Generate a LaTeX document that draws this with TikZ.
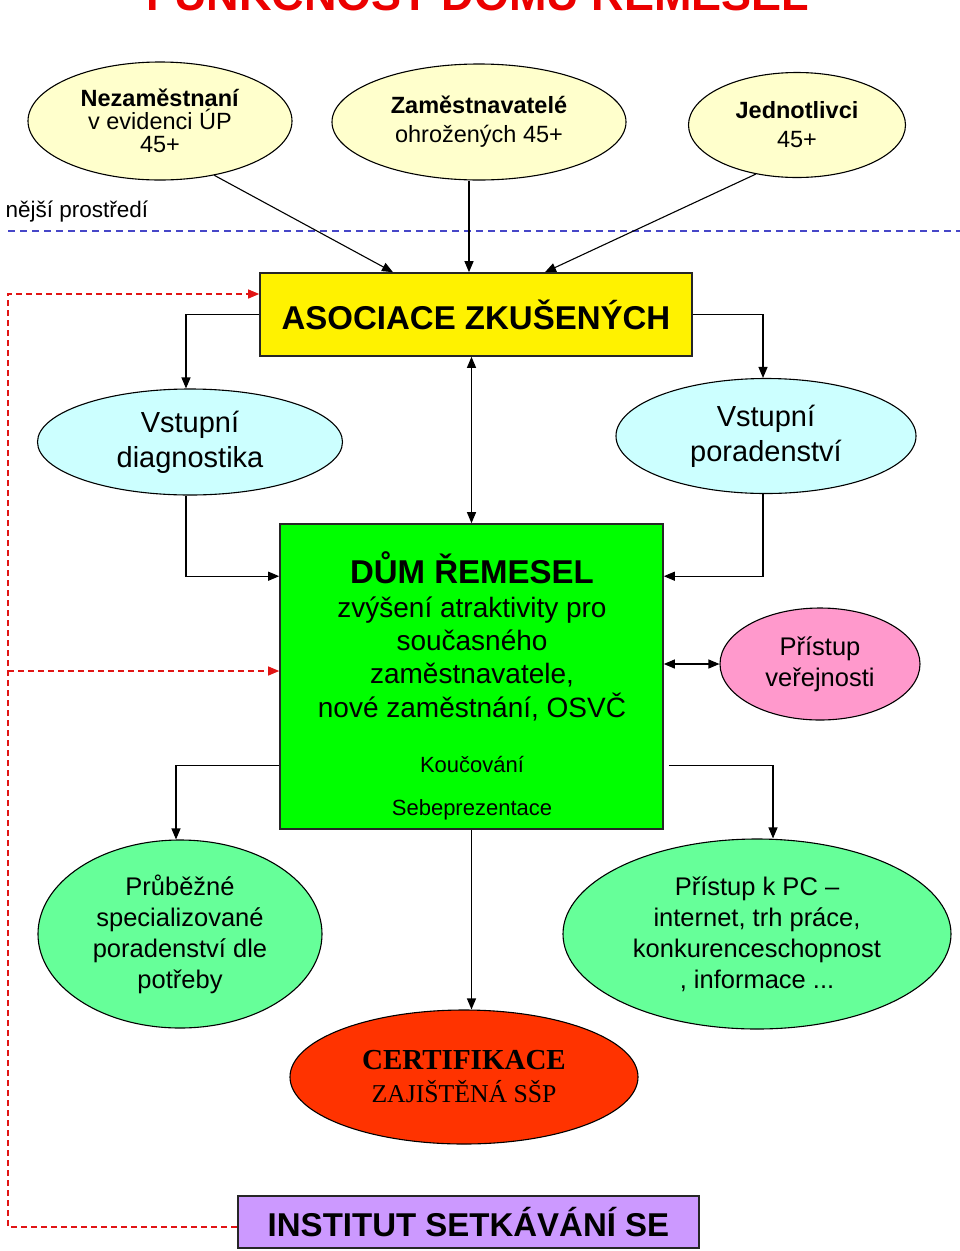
\documentclass[tikz,border=0pt]{standalone}
\usepackage{fontspec}
\setmainfont{Liberation Sans}
\newfontfamily\timesfont{Liberation Serif}
\usetikzlibrary{shapes.geometric,arrows.meta,calc,positioning}

\definecolor{titlered}{RGB}{235,0,0}
\definecolor{ltyellow}{RGB}{255,255,204}
\definecolor{ltcyan}{RGB}{204,255,255}
\definecolor{brgreen}{RGB}{0,255,0}
\definecolor{pinkfill}{RGB}{255,153,204}
\definecolor{mintfill}{RGB}{102,255,153}
\definecolor{certred}{RGB}{255,51,0}
\definecolor{lilac}{RGB}{204,153,255}
\definecolor{envblue}{RGB}{70,70,200}
\definecolor{fbred}{RGB}{225,20,20}

\newcommand{\fsz}[2]{\fontsize{#1}{#2}\selectfont}

\tikzset{every picture/.style={line width=1.2pt}}
\tikzset{
  oval/.style={draw=black,ellipse,inner sep=0pt,align=center,line width=1.1pt},
  box/.style={draw=black!85,rectangle,inner sep=0pt,align=center,line width=1.6pt},
  arr/.style={-{Triangle[length=11pt,width=9pt]},line width=1.1pt},
  darr/.style={{Triangle[length=11pt,width=9pt]}-{Triangle[length=11pt,width=9pt]},line width=1.1pt},
  fbline/.style={draw=fbred,dash pattern=on 6pt off 4pt,line width=1.1pt,-{Triangle[length=11pt,width=9pt]}},
  envline/.style={draw=envblue,dash pattern=on 7pt off 5pt,line width=1.1pt},
}

\begin{document}
\begin{tikzpicture}[x=1pt,y=1pt,yscale=-1,xscale=1]
\useasboundingbox (0,0) rectangle (960,1251);

% Title (cut off at the top)
\node[anchor=base,inner sep=0pt,text=titlered,font=\bfseries\fsz{45}{50}] (title) at (478,10) {FUNKČNOST DOMU ŘEMESEL};

% Text Node
\node[anchor=base west,inner sep=0pt,font=\fsz{22.5}{27}] (env) at (5,217) {nější prostředí};
%Dashed line
\draw[envline] (8,231) -- (960,231);

%Shape: Ellipses top
\node[oval,fill=ltyellow,minimum width=264pt,minimum height=118pt,font=\fsz{23.5}{23}] (unemp) at (160,121) {\textbf{Nezaměstnaní}\\v evidenci ÚP\\45+};
\node[oval,fill=ltyellow,minimum width=294pt,minimum height=116pt,font=\fsz{23.5}{29}] (empl) at (479,122) {\textbf{Zaměstnavatelé}\\ohrožených 45+};
\node[oval,fill=ltyellow,minimum width=217pt,minimum height=105pt,font=\fsz{23.5}{29}] (indiv) at (797,125) {\textbf{Jednotlivci}\\45+};

%Shape: Rectangle
\node[box,fill=yellow,minimum width=432pt,minimum height=83pt,font=\bfseries\fsz{33}{38}] (asoc) at (476,314.5) {ASOCIACE ZKUŠENÝCH};

\node[oval,fill=ltcyan,minimum width=305pt,minimum height=106pt,font=\fsz{29}{35}] (diag) at (190,442) {Vstupní\\diagnostika};
\node[oval,fill=ltcyan,minimum width=300pt,minimum height=115pt,font=\fsz{29}{35}] (porad) at (766,436) {Vstupní\\poradenství};

%Shape: Rectangle
\node[box,fill=brgreen,minimum width=383pt,minimum height=305pt] (dum) at (471.5,676.5) {};
% Text Node
\node[anchor=base,inner sep=0pt,font=\bfseries\fsz{33}{38}] (dumtitle) at (472,583) {DŮM ŘEMESEL};
% Text Node
\node[anchor=base,inner sep=0pt,font=\fsz{28}{33}] (dumline1) at (472,617) {zvýšení atraktivity pro};
% Text Node
\node[anchor=base,inner sep=0pt,font=\fsz{28}{33}] (dumline2) at (472,650) {současného};
% Text Node
\node[anchor=base,inner sep=0pt,font=\fsz{28}{33}] (dumline3) at (472,683) {zaměstnavatele,};
% Text Node
\node[anchor=base,inner sep=0pt,font=\fsz{28}{33}] (dumline4) at (472,717) {nové zaměstnání, OSVČ};
% Text Node
\node[anchor=base,inner sep=0pt,font=\fsz{22}{26}] (coach) at (472,772) {Koučování};
% Text Node
\node[anchor=base,inner sep=0pt,font=\fsz{22}{26}] (selfpres) at (472,815) {Sebeprezentace};

\node[oval,fill=pinkfill,minimum width=200pt,minimum height=112pt,font=\fsz{25.5}{31}] (pink) at (820,664) {Přístup\\veřejnosti};

\node[oval,fill=mintfill,minimum width=284pt,minimum height=188pt,font=\fsz{25.5}{31}] (prub) at (180,934) {Průběžné\\specializované\\poradenství dle\\potřeby};
\node[oval,fill=mintfill,minimum width=388pt,minimum height=190pt,font=\fsz{25.5}{31}] (pc) at (757,934) {Přístup k PC –\\internet, trh práce,\\konkurenceschopnost\\, informace ...};

\node[oval,fill=certred,minimum width=348pt,minimum height=134pt,font=\timesfont\fsz{25.7}{33}] (cert) at (464,1077) {{\bfseries\fsz{29}{33}CERTIFIKACE}\\ZAJIŠTĚNÁ SŠP};

%Shape: Rectangle
\node[box,fill=lilac,minimum width=461pt,minimum height=52pt,font=\bfseries\fsz{33}{38}] (inst) at (468.5,1222) {INSTITUT SETKÁVÁNÍ SE};

%Straight Lines
\draw[arr] (unemp.-45) -- ($(asoc.north)+(-83,0)$);
\draw[arr] ($(empl.south)+(-10,0)$) -- ($(asoc.north)+(-7,0)$);
\draw[arr] (indiv.-130) -- ($(asoc.north)+(69,0)$);
\draw[arr] (asoc.west) -| ($(diag.north)+(-4,0)$);
\draw[arr] (asoc.east) -| ($(porad.north)+(-3,0)$);
\draw[darr] (dum.north) -- (dum.north |- asoc.south);
\draw[arr] ($(diag.south)+(-4,0)$) |- ($(dum.north west)+(0,53)$);
\draw[arr] ($(porad.south)+(-3,0)$) |- ($(dum.north east)+(0,53)$);
\draw[darr] (dum.east |- pink.west) -- (pink.west);
\draw[arr] ($(dum.north west)+(0,242)$) -| ($(prub.north)+(-4,0)$);
\draw[arr] ($(dum.north east)+(5,242)$) -| ($(pc.north)+(16,0)$);
\draw[arr] (dum.south) -- (dum.south |- cert.north);

%Dashed feedback lines
\coordinate (fbtop) at (8,294);
\coordinate (fbmid) at (8,671);
\draw[fbline] ($(inst.west)+(0,5)$) -| (fbtop) -- (fbtop -| asoc.west);
\draw[fbline] (fbmid) -- (fbmid -| dum.west);

\end{tikzpicture}
\end{document}
